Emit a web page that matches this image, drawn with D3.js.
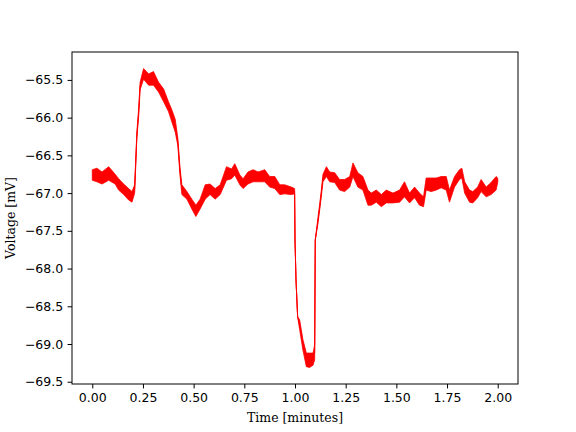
<!DOCTYPE html>
<html>
<head>
<meta charset="utf-8">
<script src="https://cdn.jsdelivr.net/npm/d3@7"></script>
<style>
  body { margin: 0; background: #fff; }
  .tick text { font-family: "DejaVu Sans", sans-serif; font-size: 12.5px; fill: #000; }
  .axis-label { font-family: "DejaVu Serif", serif; font-size: 12.5px; fill: #000; }
</style>
</head>
<body>
<svg id="chart" width="576" height="432"></svg>
<script>
// time in minutes, with the low / high edge of the noisy trace (mV)
const time = [0.000, 0.023, 0.048, 0.081, 0.113, 0.130, 0.155, 0.179, 0.196, 0.209,
  0.220, 0.229, 0.236, 0.253, 0.278, 0.302, 0.327, 0.352, 0.376, 0.393,
  0.409, 0.422, 0.433, 0.442, 0.467, 0.491, 0.511, 0.532, 0.557, 0.581,
  0.606, 0.631, 0.662, 0.687, 0.703, 0.728, 0.744, 0.768, 0.793, 0.818,
  0.851, 0.875, 0.900, 0.925, 0.949, 0.982, 0.998, 1.000, 1.005, 1.013,
  1.023, 1.039, 1.056, 1.072, 1.089, 1.097, 1.100, 1.113, 1.122, 1.130,
  1.138, 1.155, 1.171, 1.196, 1.220, 1.245, 1.270, 1.286, 1.310, 1.335,
  1.360, 1.376, 1.401, 1.426, 1.450, 1.483, 1.516, 1.540, 1.565, 1.590,
  1.614, 1.634, 1.647, 1.672, 1.697, 1.721, 1.746, 1.762, 1.787, 1.811,
  1.823, 1.837, 1.861, 1.877, 1.901, 1.918, 1.943, 1.967, 1.992, 2.000];

const vHigh = [-66.69, -66.67, -66.72, -66.65, -66.75, -66.81, -66.88, -66.94, -66.98, -66.89,
  -66.19, -65.87, -65.53, -65.35, -65.42, -65.39, -65.53, -65.62, -65.79, -65.90,
  -66.02, -66.27, -66.67, -66.89, -66.98, -67.08, -67.16, -67.08, -66.89, -66.88,
  -66.94, -66.89, -66.65, -66.68, -66.61, -66.76, -66.81, -66.72, -66.69, -66.72,
  -66.69, -66.78, -66.78, -66.89, -66.89, -66.92, -66.94, -67.62, -68.15, -68.64,
  -68.68, -68.94, -69.12, -69.12, -69.12, -69.01, -67.62, -67.33, -67.14, -66.96,
  -66.75, -66.65, -66.72, -66.73, -66.82, -66.82, -66.78, -66.60, -66.73, -66.78,
  -66.96, -67.00, -66.96, -67.02, -66.96, -67.00, -66.96, -66.85, -67.00, -66.92,
  -67.00, -67.05, -66.80, -66.80, -66.80, -66.78, -66.78, -66.96, -66.78, -66.69,
  -66.67, -66.85, -66.96, -66.98, -66.92, -66.82, -66.92, -66.86, -66.78, -66.80];

const vLow = [-66.83, -66.85, -66.88, -66.83, -66.88, -66.96, -67.02, -67.09, -67.12, -67.00,
  -66.27, -65.98, -65.63, -65.49, -65.57, -65.57, -65.66, -65.79, -65.92, -66.06,
  -66.19, -66.37, -66.77, -67.02, -67.08, -67.21, -67.31, -67.21, -67.08, -67.02,
  -67.08, -67.02, -66.83, -66.81, -66.76, -66.89, -66.94, -66.88, -66.85, -66.85,
  -66.85, -66.92, -66.94, -67.02, -67.01, -67.02, -67.01, -67.62, -68.15, -68.64,
  -68.81, -69.08, -69.30, -69.31, -69.28, -69.21, -67.62, -67.41, -67.22, -67.04,
  -66.85, -66.78, -66.85, -66.86, -66.96, -66.98, -66.92, -66.78, -66.92, -66.96,
  -67.16, -67.16, -67.12, -67.18, -67.13, -67.13, -67.12, -67.05, -67.13, -67.06,
  -67.16, -67.18, -66.96, -66.98, -66.96, -66.93, -66.96, -67.12, -66.92, -66.82,
  -66.80, -67.00, -67.12, -67.13, -67.06, -66.98, -67.05, -67.02, -66.96, -66.86];

const xTicks = [0, 0.25, 0.5, 0.75, 1.0, 1.25, 1.5, 1.75, 2.0];
const yTicks = [-65.5, -66.0, -66.5, -67.0, -67.5, -68.0, -68.5, -69.0, -69.5];

const svg = d3.select("#chart");
const margin = { left: 72, right: 58, top: 52, bottom: 48 };
const width = 576 - margin.left - margin.right,
    height = 432 - margin.top - margin.bottom;

const g = svg.append("g").attr("transform", `translate(${margin.left},${margin.top})`);

const x = d3.scaleLinear().domain([-0.1, 2.1]).range([0, width]);
const y = d3.scaleLinear().domain([-69.53, -65.13]).range([height, 0]);

const pts = time.map((t, i) => ({ t: t, lo: vLow[i], hi: vHigh[i] }));

// noise band
g.append("path")
    .datum(pts)
    .attr("fill", "#ff0000")
    .attr("stroke", "#ff0000")
    .attr("stroke-width", 0.8)
    .attr("stroke-linejoin", "miter")
    .attr("d", d3.area()
        .x(d => x(d.t))
        .y0(d => y(d.lo))
        .y1(d => y(d.hi)));

// centre line, keeps the fast jumps visible
g.append("path")
    .datum(pts)
    .attr("fill", "none")
    .attr("stroke", "#ff0000")
    .attr("stroke-width", 1)
    .attr("d", d3.line()
        .x(d => x(d.t))
        .y(d => y((d.lo + d.hi) / 2)));

const xAxis = g.append("g")
    .attr("transform", `translate(0,${height})`)
    .call(d3.axisBottom(x).tickValues(xTicks).tickFormat(d3.format(".2f")).tickSizeOuter(0).tickSize(4.4).tickPadding(4.4));

const yAxis = g.append("g")
    .call(d3.axisLeft(y).tickValues(yTicks).tickFormat(d3.format(".1f")).tickSizeOuter(0).tickSize(4.4).tickPadding(4.4));

[xAxis, yAxis].forEach(a => {
    a.select(".domain").remove();
    a.selectAll(".tick line").attr("stroke", "#000").attr("stroke-width", 1);
});

// frame
g.append("rect")
    .attr("width", width).attr("height", height)
    .attr("fill", "none").attr("stroke", "#000").attr("stroke-width", 1);

svg.append("text")
    .attr("class", "axis-label")
    .attr("x", margin.left + width / 2)
    .attr("y", 422)
    .attr("text-anchor", "middle")
    .text("Time [minutes]");

svg.append("text")
    .attr("class", "axis-label")
    .attr("transform", `translate(15,${margin.top + height / 2}) rotate(-90)`)
    .attr("text-anchor", "middle")
    .text("Voltage [mV]");
</script>
</body>
</html>
